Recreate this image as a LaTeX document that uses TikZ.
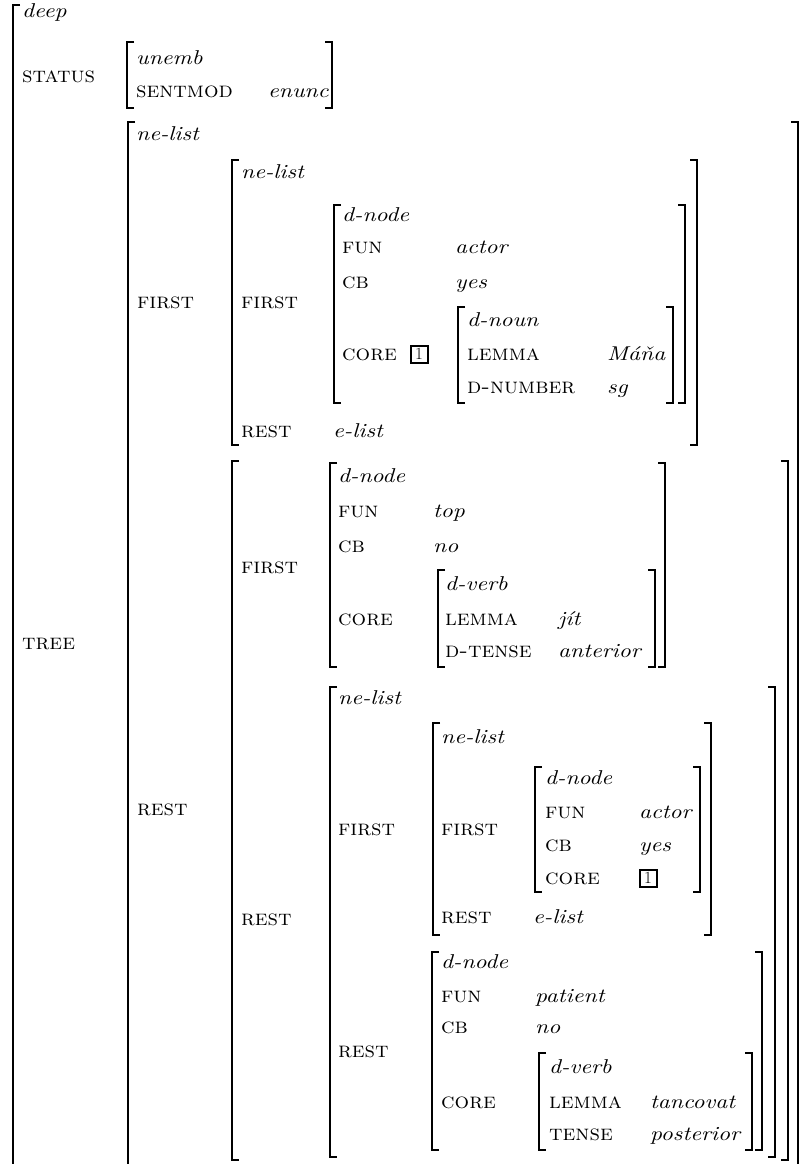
\documentclass[tikz,border=0pt]{standalone}
\usepackage{fontspec}
\usepackage{tikz}
\newfontfamily\avmit{lmroman10-italic.otf}[FakeStretch=1.17]
\newfontfamily\avmsc{lmromancaps10-regular.otf}[FakeStretch=1.04]
\newcommand{\avmsize}{\fontsize{20}{24}\selectfont}
\newcommand{\avmfsize}{\fontsize{22}{26}\selectfont}
% bracket pair: left x, right x, top y, bottom y
\newcommand{\avmbrk}[4]{%
  \draw[brk] (#1+7,#3) -| (#1,#4) -- (#1+7,#4);
  \draw[brk] (#2-7,#3) -| (#2,#4) -- (#2-7,#4);}

\begin{document}
\begin{tikzpicture}[
    x=1pt, y=-1pt,
    feat/.style={anchor=base west, inner sep=0pt, font=\avmfsize\avmsc},
    val/.style={anchor=base west, inner sep=0pt, font=\avmsize\avmit},
    tag/.style={draw, line width=2pt, inner sep=0pt, minimum size=17pt, font=\fontsize{17}{17}\selectfont},
    brk/.style={line width=1.8pt}
]
    \useasboundingbox (0,0) rectangle (801,1164);
    \clip (0,0) rectangle (801,1164);

    % Outer matrix
    \node[val] (deep) at (22,18) {deep};
    \node[feat] (status) at (22,82) {status};
    \node[val] (unemb) at (136,65) {unemb};
    \node[feat] (sentmod) at (136,97) {sentmod};
    \node[val] (enunc) at (268,97) {enunc};
    \node[feat] (tree) at (22,649) {tree};

    % TREE list
    \node[val] (tlist) at (136,140) {ne-list};
    \node[feat] (tfirst) at (137,308) {first};
    \node[feat] (trest) at (137,815) {rest};

    % first element
    \node[val] (flist) at (241,178) {ne-list};
    \node[feat] (ffirst) at (241,308) {first};
    \node[feat] (frest) at (241,437) {rest};
    \node[val] (frestv) at (333,437) {e-list};
    \node[val] (fnode) at (342,221) {d-node};
    \node[feat] (ffun) at (342,253) {fun};
    \node[val] (ffunv) at (455,253) {actor};
    \node[feat] (fcb) at (342,288) {cb};
    \node[val] (fcbv) at (455,288) {yes};
    \node[feat] (fcore) at (342,360) {core};
    \node[tag] (ftag) at (419,354) {1};
    \node[val] (fnoun) at (467,326) {d-noun};
    \node[feat] (flemma) at (467,360) {lemma};
    \node[val] (flemmav) at (607,360) {Máňa};
    \node[feat] (fnum) at (467,393) {d-number};
    \node[val] (fnumv) at (607,393) {sg};

    % rest: verb
    \node[feat] (rfirst) at (241,573) {first};
    \node[val] (vnode) at (338,482) {d-node};
    \node[feat] (vfun) at (338,517) {fun};
    \node[val] (vfunv) at (433,517) {top};
    \node[feat] (vcb) at (338,552) {cb};
    \node[val] (vcbv) at (433,552) {no};
    \node[feat] (vcore) at (338,625) {core};
    \node[val] (verb) at (445,590) {d-verb};
    \node[feat] (vlemma) at (445,625) {lemma};
    \node[val] (vlemmav) at (558,625) {jít};
    \node[feat] (vtense) at (445,657) {d-tense};
    \node[val] (vtensev) at (558,657) {anterior};

    % rest: rest
    \node[feat] (rrest) at (241,925) {rest};
    \node[val] (rlist) at (338,704) {ne-list};
    \node[feat] (rrfirst) at (338,835) {first};
    \node[feat] (rrrest) at (338,1057) {rest};
    \node[val] (alist) at (441,743) {ne-list};
    \node[feat] (afirst) at (441,835) {first};
    \node[feat] (arest) at (441,923) {rest};
    \node[val] (arestv) at (533,923) {e-list};
    \node[val] (anode) at (545,784) {d-node};
    \node[feat] (afun) at (545,818) {fun};
    \node[val] (afunv) at (639,818) {actor};
    \node[feat] (acb) at (545,851) {cb};
    \node[val] (acbv) at (639,851) {yes};
    \node[feat] (acore) at (545,884) {core};
    \node[tag] (atag) at (648,878) {1};
    \node[val] (pnode) at (441,968) {d-node};
    \node[feat] (pfun) at (441,1002) {fun};
    \node[val] (pfunv) at (535,1002) {patient};
    \node[feat] (pcb) at (441,1033) {cb};
    \node[val] (pcbv) at (535,1033) {no};
    \node[feat] (pcore) at (441,1108) {core};
    \node[val] (pverb) at (549,1073) {d-verb};
    \node[feat] (plemma) at (549,1108) {lemma};
    \node[val] (plemmav) at (650,1108) {tancovat};
    \node[feat] (ptense) at (549,1140) {tense};
    \node[val] (ptensev) at (650,1140) {posterior};

    % Brackets
    \avmbrk{13}{830}{5}{1200}
    \avmbrk{127}{332}{42}{108}
    \avmbrk{128}{798}{122}{1200}
    \avmbrk{232}{697}{160}{445}
    \avmbrk{334}{685}{205}{403}
    \avmbrk{458}{673}{307}{403}
    \avmbrk{232}{788}{461}{1160}
    \avmbrk{330}{665}{463}{667}
    \avmbrk{438}{655}{570}{667}
    \avmbrk{330}{775}{687}{1157}
    \avmbrk{433}{711}{723}{935}
    \avmbrk{535}{700}{767}{892}
    \avmbrk{432}{762}{952}{1150}
    \avmbrk{539}{752}{1053}{1150}
\end{tikzpicture}
\end{document}
